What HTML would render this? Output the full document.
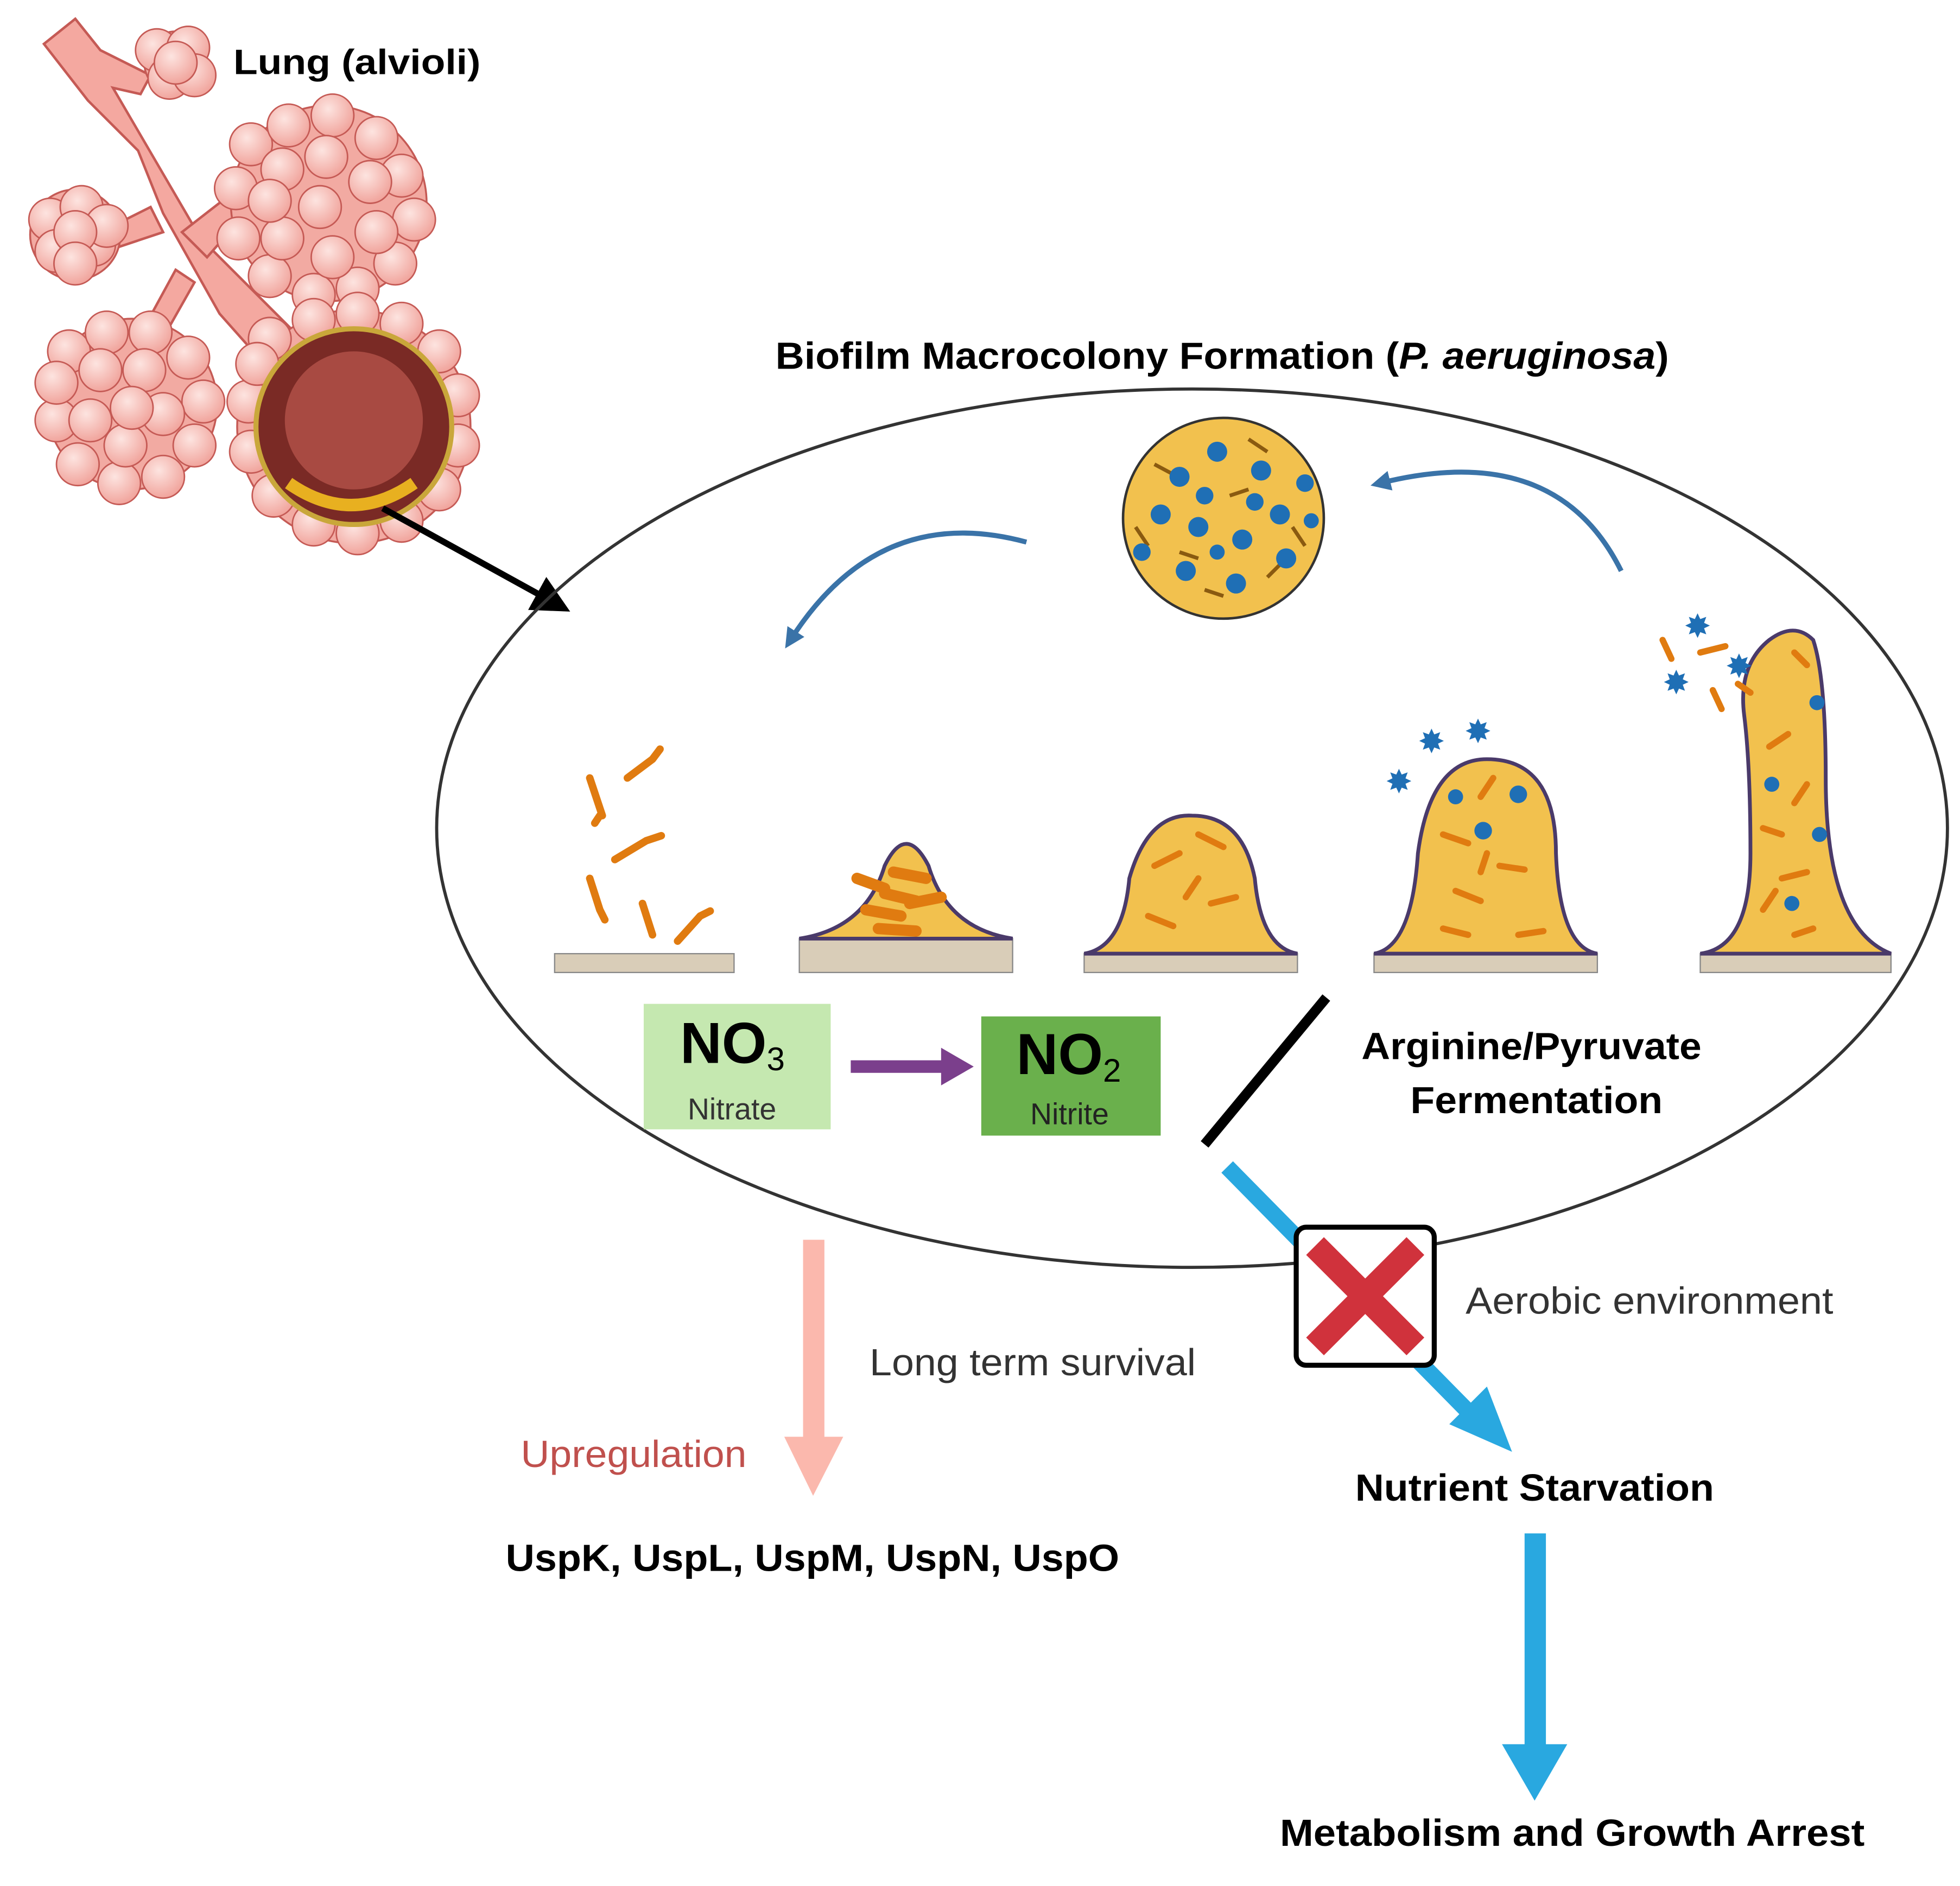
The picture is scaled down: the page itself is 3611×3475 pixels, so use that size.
<!DOCTYPE html>
<html><head><meta charset="utf-8"><style>html,body{margin:0;padding:0;background:#fff}svg{display:block}</style></head>
<body>
<svg width="3611" height="3475" viewBox="0 0 1562 1503" preserveAspectRatio="none" xmlns="http://www.w3.org/2000/svg" font-family="Liberation Sans, Arial, sans-serif">
<defs>
<marker id="ab" markerWidth="6" markerHeight="6" refX="5" refY="3" orient="auto" markerUnits="strokeWidth"><path d="M0,0 L6,3 L0,6 z" fill="#000"/></marker>
<marker id="bl" markerWidth="4" markerHeight="4" refX="2" refY="2" orient="auto" markerUnits="strokeWidth"><path d="M0,0 L4,2 L0,4 z" fill="#3a73a8"/></marker>
<radialGradient id="al" cx="0.4" cy="0.35" r="0.7"><stop offset="0" stop-color="#fde4e0"/><stop offset="1" stop-color="#f0a098"/></radialGradient>
<g id="bub"><circle r="17" fill="url(#al)" stroke="#c55a55" stroke-width="1.2"/></g>
</defs>
<!-- Lung -->
<g stroke="#c55a55" stroke-width="2" fill="#f4a8a0">
<path d="M35,35 L60,15 L80,40 L120,60 L112,75 L90,70 L160,190 L240,270 L215,295 L175,250 L130,170 L110,120 L70,80 Z"/>
<path d="M145,185 L190,150 L200,165 L165,205 Z"/>
<path d="M120,165 L80,185 L85,200 L130,185 Z"/>
<path d="M140,215 L110,270 L125,278 L155,225 Z"/>
</g>
<g fill="#f2aaa2" stroke="#c55a55" stroke-width="1.5">
<circle cx="140" cy="50" r="25"/><circle cx="60" cy="187" r="36"/><circle cx="262" cy="162" r="78"/><circle cx="105" cy="322" r="68"/><circle cx="282" cy="340" r="93"/>
</g>
<g>
<use href="#bub" x="125" y="40"/><use href="#bub" x="150" y="38"/><use href="#bub" x="135" y="62"/><use href="#bub" x="155" y="60"/><use href="#bub" x="140" y="50"/>
<use href="#bub" x="40" y="175"/><use href="#bub" x="65" y="165"/><use href="#bub" x="45" y="200"/><use href="#bub" x="75" y="195"/><use href="#bub" x="85" y="180"/><use href="#bub" x="60" y="185"/><use href="#bub" x="60" y="210"/>
<use href="#bub" x="200" y="115"/><use href="#bub" x="230" y="100"/><use href="#bub" x="265" y="92"/><use href="#bub" x="300" y="110"/><use href="#bub" x="320" y="140"/><use href="#bub" x="330" y="175"/><use href="#bub" x="315" y="210"/><use href="#bub" x="285" y="230"/><use href="#bub" x="250" y="235"/><use href="#bub" x="215" y="220"/><use href="#bub" x="190" y="190"/><use href="#bub" x="188" y="150"/>
<use href="#bub" x="225" y="135"/><use href="#bub" x="260" y="125"/><use href="#bub" x="295" y="145"/><use href="#bub" x="300" y="185"/><use href="#bub" x="265" y="205"/><use href="#bub" x="225" y="190"/><use href="#bub" x="215" y="160"/><use href="#bub" x="255" y="165"/>
<use href="#bub" x="55" y="280"/><use href="#bub" x="85" y="265"/><use href="#bub" x="120" y="265"/><use href="#bub" x="150" y="285"/><use href="#bub" x="162" y="320"/><use href="#bub" x="155" y="355"/><use href="#bub" x="130" y="380"/><use href="#bub" x="95" y="385"/><use href="#bub" x="62" y="370"/><use href="#bub" x="45" y="335"/><use href="#bub" x="45" y="305"/>
<use href="#bub" x="80" y="295"/><use href="#bub" x="115" y="295"/><use href="#bub" x="130" y="330"/><use href="#bub" x="100" y="355"/><use href="#bub" x="72" y="335"/><use href="#bub" x="105" y="325"/>
</g>
<g>
<use href="#bub" x="215" y="270"/><use href="#bub" x="250" y="255"/><use href="#bub" x="285" y="250"/><use href="#bub" x="320" y="258"/><use href="#bub" x="350" y="280"/><use href="#bub" x="365" y="315"/><use href="#bub" x="365" y="355"/><use href="#bub" x="350" y="390"/><use href="#bub" x="320" y="415"/><use href="#bub" x="285" y="425"/><use href="#bub" x="250" y="418"/><use href="#bub" x="218" y="395"/><use href="#bub" x="200" y="360"/><use href="#bub" x="198" y="320"/><use href="#bub" x="205" y="290"/>
</g>
<circle cx="282" cy="340" r="78" fill="#7a2a25" stroke="#c9a73a" stroke-width="4"/>
<circle cx="282" cy="335" r="55" fill="#a84a42"/>
<path d="M230,385 Q280,420 330,385" stroke="#e8b020" stroke-width="10" fill="none"/>
<text x="186" y="59" font-size="28" font-weight="bold" textLength="197" lengthAdjust="spacingAndGlyphs">Lung (alvioli)</text>
<line x1="305" y1="405" x2="450" y2="485" stroke="#000" stroke-width="5" marker-end="url(#ab)"/>
<text x="618" y="294" font-size="30" font-weight="bold" textLength="712" lengthAdjust="spacingAndGlyphs">Biofilm Macrocolony Formation (<tspan font-style="italic">P. aeruginosa</tspan>)</text>
<ellipse cx="950" cy="660" rx="602" ry="350" fill="none" stroke="#333" stroke-width="2.5"/>
<circle cx="975" cy="413" r="80" fill="#f2c14e" stroke="#333" stroke-width="2"/>
<g stroke="#8a5a10" stroke-width="3">
<line x1="920" y1="370" x2="935" y2="378"/><line x1="995" y1="350" x2="1010" y2="360"/><line x1="1030" y1="420" x2="1040" y2="435"/><line x1="960" y1="470" x2="975" y2="475"/><line x1="905" y1="420" x2="915" y2="435"/><line x1="980" y1="395" x2="995" y2="390"/><line x1="940" y1="440" x2="955" y2="445"/><line x1="1010" y1="460" x2="1020" y2="450"/>
</g>
<g fill="#1f6fb5">
<circle cx="940" cy="380" r="8"/><circle cx="970" cy="360" r="8"/><circle cx="1005" cy="375" r="8"/><circle cx="1020" cy="410" r="8"/><circle cx="990" cy="430" r="8"/><circle cx="955" cy="420" r="8"/><circle cx="925" cy="410" r="8"/><circle cx="945" cy="455" r="8"/><circle cx="985" cy="465" r="8"/><circle cx="1025" cy="445" r="8"/><circle cx="910" cy="440" r="7"/><circle cx="1040" cy="385" r="7"/><circle cx="960" cy="395" r="7"/><circle cx="1000" cy="400" r="7"/><circle cx="1045" cy="415" r="6"/><circle cx="970" cy="440" r="6"/>
</g>
<path d="M818,432 Q700,400 630,510" stroke="#3a73a8" stroke-width="4" fill="none" marker-end="url(#bl)"/>
<path d="M1292,455 Q1240,350 1100,385" stroke="#3a73a8" stroke-width="4" fill="none" marker-end="url(#bl)"/>
<g fill="#d9cdb8" stroke="#888" stroke-width="1">
<rect x="442" y="760" width="143" height="15"/><rect x="637" y="748" width="170" height="27"/><rect x="864" y="760" width="170" height="15"/><rect x="1095" y="760" width="178" height="15"/><rect x="1355" y="760" width="152" height="15"/>
</g>
<g fill="#f2c14e" stroke="#4a3a6a" stroke-width="3">
<path d="M637,748 Q690,740 705,690 Q722,655 740,690 Q755,740 807,748 Z"/>
<path d="M864,760 Q895,755 900,700 Q915,648 950,650 Q990,650 1000,700 Q1005,755 1034,760 Z"/>
<path d="M1095,760 Q1125,755 1130,680 Q1140,605 1185,605 Q1240,605 1240,680 Q1243,755 1273,760 Z"/>
<path d="M1355,760 Q1395,755 1395,680 Q1395,610 1390,570 Q1385,530 1410,510 Q1430,495 1445,510 Q1455,540 1455,620 Q1455,740 1507,760 Z"/>
</g>
<g stroke="#e07b10" stroke-width="6" stroke-linecap="round" fill="none">
<path d="M470,620 L480,650 M478,650 l-4,6"/><path d="M500,620 L520,605 M520,605 l6,-8"/><path d="M490,685 L515,670 M515,670 l12,-4"/><path d="M470,700 L478,725 M478,725 l4,8"/><path d="M512,720 L520,745"/><path d="M540,750 L558,730 M558,730 l8,-4"/>
</g>
<g stroke="#e07b10" stroke-width="9" stroke-linecap="round">
<line x1="683" y1="700" x2="705" y2="708"/><line x1="712" y1="695" x2="738" y2="700"/><line x1="690" y1="725" x2="718" y2="730"/><line x1="725" y1="720" x2="750" y2="715"/><line x1="700" y1="740" x2="730" y2="742"/><line x1="705" y1="712" x2="730" y2="718"/>
</g>
<g stroke="#e07b10" stroke-width="5" stroke-linecap="round">
<line x1="920" y1="690" x2="940" y2="680"/><line x1="955" y1="665" x2="975" y2="675"/><line x1="915" y1="730" x2="935" y2="738"/><line x1="945" y1="715" x2="955" y2="700"/><line x1="965" y1="720" x2="985" y2="715"/>
<line x1="1150" y1="665" x2="1170" y2="672"/><line x1="1180" y1="635" x2="1190" y2="620"/><line x1="1160" y1="710" x2="1180" y2="718"/><line x1="1195" y1="690" x2="1215" y2="693"/><line x1="1150" y1="740" x2="1170" y2="745"/><line x1="1210" y1="745" x2="1230" y2="742"/><line x1="1180" y1="695" x2="1185" y2="680"/>
<line x1="1430" y1="520" x2="1440" y2="530"/><line x1="1410" y1="595" x2="1425" y2="585"/><line x1="1430" y1="640" x2="1440" y2="625"/><line x1="1405" y1="660" x2="1420" y2="665"/><line x1="1420" y1="700" x2="1440" y2="695"/><line x1="1405" y1="725" x2="1415" y2="710"/><line x1="1430" y1="745" x2="1445" y2="740"/>
<line x1="1325" y1="510" x2="1332" y2="525"/><line x1="1355" y1="520" x2="1375" y2="515"/><line x1="1365" y1="550" x2="1372" y2="565"/><line x1="1385" y1="545" x2="1395" y2="552"/>
</g>
<g fill="#1f6fb5">
<circle cx="1182" cy="662" r="7"/><circle cx="1210" cy="633" r="7"/><circle cx="1160" cy="635" r="6"/>
<circle cx="1412" cy="625" r="6"/><circle cx="1448" cy="560" r="6"/><circle cx="1450" cy="665" r="6"/><circle cx="1428" cy="720" r="6"/>
</g>
<g fill="#1f6fb5" font-size="26"><text x="1130" y="600">✸</text><text x="1167" y="592">✸</text><text x="1104" y="632">✸</text><text x="1342" y="508">✸</text><text x="1325" y="553">✸</text><text x="1375" y="540">✸</text></g>
<rect x="513" y="800" width="149" height="100" fill="#c5e8b0"/>
<text x="542" y="847" font-size="46" font-weight="bold">NO<tspan font-size="26" font-weight="normal" dy="6">3</tspan></text>
<text x="548" y="892" font-size="24" fill="#333">Nitrate</text>
<rect x="782" y="810" width="143" height="95" fill="#6ab04c"/>
<text x="810" y="856" font-size="46" font-weight="bold">NO<tspan font-size="26" font-weight="normal" dy="6">2</tspan></text>
<text x="821" y="896" font-size="24" fill="#222">Nitrite</text>
<line x1="678" y1="850" x2="755" y2="850" stroke="#7b3f8c" stroke-width="10"/>
<polygon points="750,835 776,850 750,865" fill="#7b3f8c"/>
<line x1="1057" y1="795" x2="960" y2="912" stroke="#000" stroke-width="8"/>
<text x="1085" y="844" font-size="30" font-weight="bold" textLength="271" lengthAdjust="spacingAndGlyphs">Arginine/Pyruvate</text>
<text x="1124" y="887" font-size="30" font-weight="bold" textLength="201" lengthAdjust="spacingAndGlyphs">Fermentation</text>
<line x1="978" y1="930" x2="1180" y2="1135" stroke="#29a8e0" stroke-width="13"/>
<polygon points="1155,1135 1205,1157 1185,1105" fill="#29a8e0"/>
<rect x="1033" y="978" width="110" height="110" rx="8" fill="#fff" stroke="#000" stroke-width="4"/>
<path d="M1048,993 L1128,1073 M1128,993 L1048,1073" stroke="#d0323c" stroke-width="20"/>
<text x="1168" y="1047" font-size="30" fill="#333" textLength="293" lengthAdjust="spacingAndGlyphs">Aerobic environment</text>
<rect x="640" y="988" width="17" height="160" fill="#fbb8ad"/>
<polygon points="625,1145 672,1145 648,1192" fill="#fbb8ad"/>
<text x="693" y="1096" font-size="30" fill="#333" textLength="260" lengthAdjust="spacingAndGlyphs">Long term survival</text>
<text x="415" y="1169" font-size="30" fill="#c0504d" textLength="180" lengthAdjust="spacingAndGlyphs">Upregulation</text>
<text x="403" y="1252" font-size="30" font-weight="bold" textLength="489" lengthAdjust="spacingAndGlyphs">UspK, UspL, UspM, UspN, UspO</text>
<text x="1080" y="1196" font-size="30" font-weight="bold" textLength="286" lengthAdjust="spacingAndGlyphs">Nutrient Starvation</text>
<rect x="1215" y="1222" width="17" height="170" fill="#29a8e0"/>
<polygon points="1197,1390 1249,1390 1223,1435" fill="#29a8e0"/>
<text x="1020" y="1471" font-size="30" font-weight="bold" textLength="466" lengthAdjust="spacingAndGlyphs">Metabolism and Growth Arrest</text>
</svg>
</body></html>
